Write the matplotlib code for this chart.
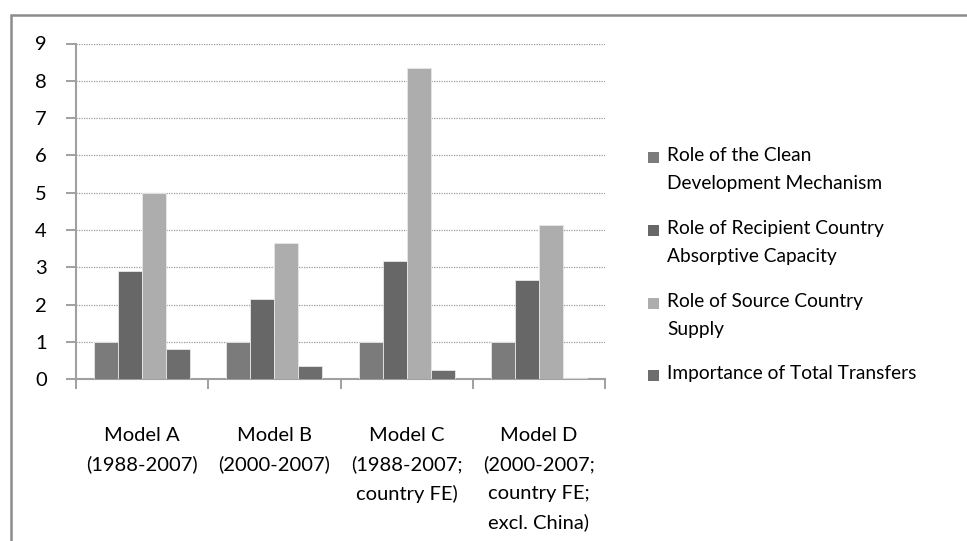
import numpy as np
import matplotlib.pyplot as plt
from matplotlib.patches import Rectangle

plt.rcParams['font.family'] = ['Lato', 'DejaVu Sans']

models = ['Model A\n(1988-2007)', 'Model B\n(2000-2007)',
          'Model C\n(1988-2007;\ncountry FE)',
          'Model D\n(2000-2007;\ncountry FE;\nexcl. China)']
series_names = ['Role of the Clean\nDevelopment Mechanism',
                'Role of Recipient Country\nAbsorptive Capacity',
                'Role of Source Country\nSupply',
                'Importance of Total Transfers']
cdm = [1.0, 1.0, 1.0, 1.0]
absorptive = [2.91, 2.16, 3.16, 2.67]
source_supply = [5.0, 3.65, 8.35, 4.13]
total_transfers = [0.82, 0.35, 0.24, 0.04]
colors = ['#7b7b7b', '#676767', '#adadad', '#6d6d6d']

values = [cdm, absorptive, source_supply, total_transfers]

fig = plt.figure(figsize=(9.67, 5.41), dpi=100)
# outer chart frame, cut off at right/bottom like the reference
fig.patches.append(Rectangle((11 / 967, -0.05), 1.0, 1 - 15 / 541 + 0.05,
                             transform=fig.transFigure, fill=False,
                             edgecolor='#8c8c8c', linewidth=1.8))

ax = fig.add_axes([76 / 967, 161.7 / 541, 529 / 967, 335.8 / 541])

n = len(models)
x = np.arange(n)
width = 1 / 5.5
for i, (vals, col) in enumerate(zip(values, colors)):
    ax.bar(x - 2 * width + (i + 0.5) * width, vals, width, color=col,
           edgecolor='#e8e8e8', linewidth=0.6, zorder=3)

ax.set_xlim(-0.5, n - 0.5)
ax.set_ylim(0, 9)
ax.set_yticks(range(0, 10))
ax.grid(axis='y', color='#9a9a9a', linestyle=(0, (1, 1)), linewidth=0.9, zorder=1)

ax.set_xticks(np.arange(-0.5, n, 1.0))
ax.set_xticklabels([])
ax.set_xticks(x, minor=True)
ax.set_xticklabels(models, minor=True, fontsize=14.5, linespacing=1.8,
                   color='#000000')
ax.tick_params(axis='x', which='major', length=7, color='#999999', width=1.3)
ax.tick_params(axis='x', which='minor', length=0, pad=34)
ax.tick_params(axis='y', length=7, color='#999999', width=1.3, pad=14,
               labelsize=14.5, labelcolor='#000000')

for s in ['top', 'right']:
    ax.spines[s].set_visible(False)
for s in ['left', 'bottom']:
    ax.spines[s].set_color('#a0a0a0')
    ax.spines[s].set_linewidth(1.5)

# legend, marker aligned with first line like Excel
leg_y = [157, 230, 303, 375]
for name, col, yy in zip(series_names, colors, leg_y):
    fig.patches.append(Rectangle((648 / 967, 1 - (yy + 6) / 541), 11 / 967, 11 / 541,
                                 transform=fig.transFigure, facecolor=col,
                                 edgecolor='none'))
    fig.text(667 / 967, 1 - (yy - 10) / 541, name, fontsize=13.8, va='top',
             ha='left', linespacing=1.78, color='#000000')

fig.savefig('out.png', dpi=100)
